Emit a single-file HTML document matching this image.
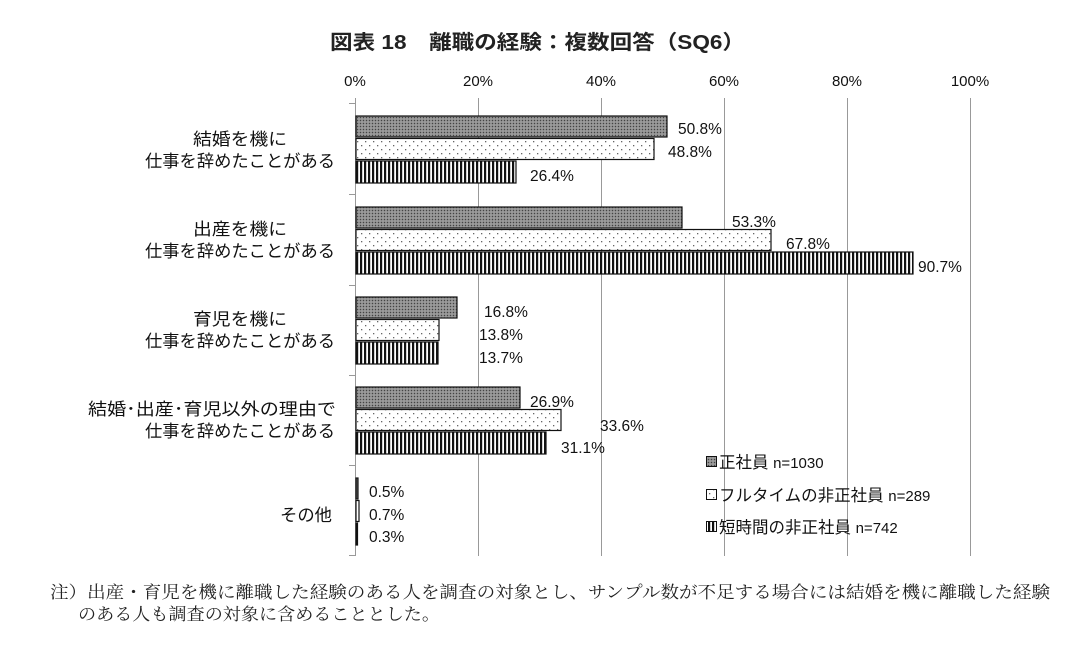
<!DOCTYPE html>
<html><head><meta charset="utf-8"><style>
html,body{margin:0;padding:0;background:#fff;}
svg{display:block;font-family:"Liberation Sans","Noto Sans CJK JP",sans-serif;}
</style></head><body>
<svg width="1080" height="657" viewBox="0 0 1080 657" xmlns="http://www.w3.org/2000/svg">
<defs>
<pattern id="pA" width="3" height="3" patternUnits="userSpaceOnUse">
<rect width="3" height="3" fill="#8a8a8a"/><rect width="1" height="1" fill="#444"/><rect x="1.5" y="1.5" width="1" height="1" fill="#c8c8c8"/>
</pattern>
<pattern id="pB" width="8" height="8" patternUnits="userSpaceOnUse">
<rect width="8" height="8" fill="#fff"/><rect x="1" y="1" width="1.3" height="1.3" fill="#666"/><rect x="5" y="5" width="1.3" height="1.3" fill="#666"/>
</pattern>
<pattern id="pC" width="4" height="4" patternUnits="userSpaceOnUse">
<rect width="4" height="4" fill="#fff"/><rect width="2.2" height="4" fill="#111"/>
</pattern>
</defs>
<text x="330" y="49" font-size="20" font-weight="bold" fill="#222" textLength="415" lengthAdjust="spacingAndGlyphs">図表 18　離職の経験：複数回答（SQ6）</text>
<g font-size="15" fill="#111" text-anchor="middle">
<text x="355" y="86">0%</text><text x="478" y="86">20%</text><text x="601" y="86">40%</text><text x="724" y="86">60%</text><text x="847" y="86">80%</text><text x="970" y="86">100%</text>
</g>
<g stroke="#999" stroke-width="1">
<line x1="478.5" y1="98" x2="478.5" y2="556"/><line x1="601.5" y1="98" x2="601.5" y2="556"/><line x1="724.5" y1="98" x2="724.5" y2="556"/><line x1="847.5" y1="98" x2="847.5" y2="556"/><line x1="970.5" y1="98" x2="970.5" y2="556"/>
<line x1="355.5" y1="98" x2="355.5" y2="556"/>
<line x1="349" y1="103.5" x2="355" y2="103.5"/><line x1="349" y1="194.5" x2="355" y2="194.5"/><line x1="349" y1="285.5" x2="355" y2="285.5"/><line x1="349" y1="375.5" x2="355" y2="375.5"/><line x1="349" y1="465.5" x2="355" y2="465.5"/><line x1="349" y1="555.5" x2="355" y2="555.5"/>
</g>
<g stroke="#111" stroke-width="1.2">
<rect x="356" y="116" width="311" height="21" fill="url(#pA)"/>
<rect x="356" y="138.5" width="298" height="21" fill="url(#pB)"/>
<rect x="356" y="161" width="160" height="22" fill="url(#pC)"/>
<rect x="356" y="207" width="326" height="21" fill="url(#pA)"/>
<rect x="356" y="229.5" width="415" height="21" fill="url(#pB)"/>
<rect x="356" y="252" width="557" height="22" fill="url(#pC)"/>
<rect x="356" y="297" width="101" height="21" fill="url(#pA)"/>
<rect x="356" y="319.5" width="83" height="21" fill="url(#pB)"/>
<rect x="356" y="342" width="82" height="22" fill="url(#pC)"/>
<rect x="356" y="387" width="164" height="21" fill="url(#pA)"/>
<rect x="356" y="409.5" width="205" height="21" fill="url(#pB)"/>
<rect x="356" y="432" width="190" height="22" fill="url(#pC)"/>
<rect x="356" y="478" width="2" height="21" fill="#666"/>
<rect x="356" y="500.5" width="3" height="21" fill="#fff"/>
<rect x="356" y="523" width="1.5" height="22" fill="#111"/>
</g>
<g font-size="15.5" fill="#111">
<text x="678" y="134">50.8%</text><text x="668" y="157">48.8%</text><text x="530" y="181">26.4%</text>
<text x="732" y="227">53.3%</text><text x="786" y="249">67.8%</text><text x="918" y="272">90.7%</text>
<text x="484" y="317">16.8%</text><text x="479" y="340">13.8%</text><text x="479" y="363">13.7%</text>
<text x="530" y="407">26.9%</text><text x="600" y="431">33.6%</text><text x="561" y="453">31.1%</text>
<text x="369" y="497">0.5%</text><text x="369" y="520">0.7%</text><text x="369" y="542">0.3%</text>
</g>
<g font-size="17" fill="#111">
<text x="193" y="145" textLength="94" lengthAdjust="spacingAndGlyphs">結婚を機に</text><text x="145" y="167" textLength="190" lengthAdjust="spacingAndGlyphs">仕事を辞めたことがある</text>
<text x="193" y="235" textLength="94" lengthAdjust="spacingAndGlyphs">出産を機に</text><text x="145" y="257" textLength="190" lengthAdjust="spacingAndGlyphs">仕事を辞めたことがある</text>
<text x="193" y="325" textLength="94" lengthAdjust="spacingAndGlyphs">育児を機に</text><text x="145" y="347" textLength="190" lengthAdjust="spacingAndGlyphs">仕事を辞めたことがある</text>
<text x="88" y="415" textLength="248" lengthAdjust="spacingAndGlyphs">結婚･出産･育児以外の理由で</text><text x="145" y="437" textLength="190" lengthAdjust="spacingAndGlyphs">仕事を辞めたことがある</text>
<text x="280" y="521" textLength="52" lengthAdjust="spacingAndGlyphs">その他</text>
</g>
<g stroke="#111" stroke-width="1">
<rect x="706.5" y="456.5" width="10" height="10" fill="url(#pA)"/>
<rect x="706.5" y="489.5" width="10" height="10" fill="url(#pB)"/>
<rect x="706.5" y="521.5" width="10" height="10" fill="url(#pC)"/>
</g>
<g font-size="16.5" fill="#111">
<text x="719" y="468">正社員 <tspan font-size="15">n=1030</tspan></text>
<text x="719" y="501">フルタイムの非正社員 <tspan font-size="15">n=289</tspan></text>
<text x="719" y="533">短時間の非正社員 <tspan font-size="15">n=742</tspan></text>
</g>
<g font-size="17" fill="#222" font-family="'Noto Serif CJK SC','Liberation Serif',serif">
<text x="50" y="598" textLength="1000" lengthAdjust="spacingAndGlyphs">注）出産・育児を機に離職した経験のある人を調査の対象とし、サンプル数が不足する場合には結婚を機に離職した経験</text>
<text x="78" y="620" textLength="362" lengthAdjust="spacingAndGlyphs">のある人も調査の対象に含めることとした。</text>
</g>
</svg>
</body></html>
